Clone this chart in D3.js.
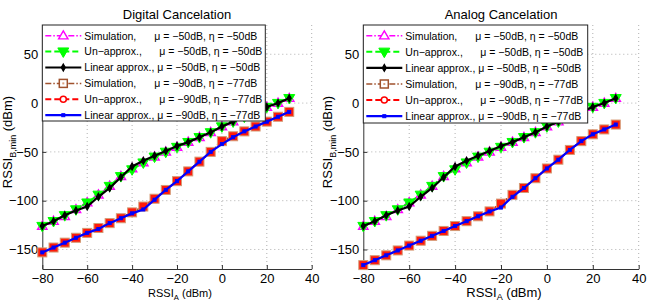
<!DOCTYPE html>
<html>
<head>
<meta charset="utf-8">
<script src="https://cdn.jsdelivr.net/npm/d3@7"></script>
<style>
  body { margin: 0; background: #fff; }
  text { font-family: "Liberation Sans", Arial, sans-serif; fill: #000; }
</style>
</head>
<body>
<div id="chart"></div>
<script>
// x values shared by all curves
const rssiA = [-80, -75, -70, -65, -60, -55, -50, -45, -40, -35, -30, -25, -20, -15, -10, -5, 0, 5, 10, 15, 20, 25, 30];

// digital cancelation
const digSim50 = [-126, -121, -116, -109, -102, -94, -85, -75, -67, -61, -55, -50, -45, -40, -35, -30, -24, -19, -14, -9, -4, 0, 5];
const digUn50  = [-126, -121, -115, -109, -102, -94, -85, -75, -68, -61, -55, -50, -45, -40, -35, -30, -24, -19, -14, -9, -4, 0, 5];
const digLin50 = [-126, -121, -115, -110, -106, -96, -87, -76, -65, -59, -54, -49, -44, -40, -35, -30, -24, -19, -14, -9, -4, 0, 5];
const digSim90 = [-153, -148, -143, -138, -133, -128, -123, -118, -112, -106, -98, -89, -80, -70, -60, -50, -39, -34, -29, -24, -19, -14, -9];
const digUn90  = [-153, -148, -143, -138, -133, -128, -123, -118, -112, -106, -98, -89, -80, -70, -60, -50, -39, -34, -29, -24, -19, -14, -9];
const digLin90 = [-153, -148, -143, -138, -133, -129, -123, -118, -113, -109, -99, -89, -80, -70, -60, -50, -42, -35, -29, -24, -19, -14, -9];

// analog cancelation
const anaSim50 = [-126, -121, -116, -109, -102, -94, -85, -75, -67, -61, -55, -50, -45, -40, -35, -30, -24, -19, -14, -9, -4, 0, 5];
const anaUn50  = [-126, -121, -115, -109, -102, -94, -85, -75, -68, -61, -55, -50, -45, -40, -35, -30, -24, -19, -14, -9, -4, 0, 5];
const anaLin50 = [-126, -121, -115, -110, -106, -96, -87, -76, -65, -59, -54, -49, -44, -40, -35, -30, -24, -19, -14, -9, -4, 0, 5];
const anaSim90 = [-166, -161, -156, -151, -146, -141, -136, -131, -126, -121, -116, -111, -103, -94, -87, -77, -67, -58, -48, -39, -32, -27, -22];
const anaUn90  = [-166, -161, -156, -151, -146, -141, -136, -131, -126, -121, -116, -111, -103, -94, -87, -77, -67, -58, -48, -39, -32, -27, -22];
const anaLin90 = [-166, -161, -156, -151, -146, -141, -136, -131, -126, -121, -116, -111, -107, -96, -87, -77, -67, -58, -48, -39, -32, -27, -22];

const xTicks = [-80, -60, -40, -20, 0, 20, 40];
const yTicks = [-150, -100, -50, 0, 50];
const titles = ["Digital Cancelation", "Analog Cancelation"];
const legendLabels = [
  ["Simulation,", "\u03bc = \u221250dB, \u03b7 = \u221250dB"],
  ["Un\u2212approx.,", "\u03bc = \u221250dB, \u03b7 = \u221250dB"],
  ["Linear approx.,", "\u03bc = \u221250dB, \u03b7 = \u221250dB"],
  ["Simulation,", "\u03bc = \u221290dB, \u03b7 = \u221277dB"],
  ["Un\u2212approx.,", "\u03bc = \u221290dB, \u03b7 = \u221277dB"],
  ["Linear approx.,", "\u03bc = \u221290dB, \u03b7 = \u221277dB"]
];

// series styles, in legend order
const styles = [
  {color: "#ff00ff", width: 1.5, dash: "6,2,1.5,2", marker: "triUp"},
  {color: "#00ff00", width: 2, dash: "6,3", marker: "triDown"},
  {color: "#000000", width: 2.2, dash: null, marker: "star"},
  {color: "#a0522d", width: 1.5, dash: "6,2,1.5,2", marker: "square"},
  {color: "#ff0000", width: 2, dash: "6,3", marker: "circle"},
  {color: "#0000ff", width: 2.2, dash: null, marker: "dot"}
];

const panels = [
  {left: 42.3, right: 311.7, legendW: 223, legendH: 96, xFont: 11, yLabelX: 12,
   series: [digSim50, digUn50, digLin50, digSim90, digUn90, digLin90]},
  {left: 363.3, right: 638.7, legendW: 224.4, legendH: 98, xFont: 13, yLabelX: 332,
   series: [anaSim50, anaUn50, anaLin50, anaSim90, anaUn90, anaLin90]}
];

const W = 648, H = 307, plotTop = 25, plotBottom = 269;

const svg = d3.select("#chart").append("svg")
  .attr("width", W).attr("height", H)
  .style("background", "#fff");

function drawMarker(g, kind, color, cx, cy, inLegend) {
  if (kind === "triUp") {
    g.append("path").attr("d", d3.symbol(d3.symbolTriangle, 38)())
      .attr("transform", `translate(${cx},${cy + 0.5})`)
      .attr("fill", inLegend ? "#fff" : "none").attr("stroke", color).attr("stroke-width", 1.4);
  } else if (kind === "triDown") {
    g.append("path").attr("d", d3.symbol(d3.symbolTriangle, 52)())
      .attr("transform", `translate(${cx},${cy - 0.5}) rotate(180)`)
      .attr("fill", color).attr("stroke", color).attr("stroke-width", 1);
  } else if (kind === "star") {
    g.append("path").attr("d", d3.symbol(d3.symbolDiamond, 14)())
      .attr("transform", `translate(${cx},${cy})`)
      .attr("fill", color).attr("stroke", color).attr("stroke-width", 1.2);
  } else if (kind === "square") {
    if (inLegend) {
      g.append("rect").attr("x", cx - 4).attr("y", cy - 4)
        .attr("width", 8).attr("height", 8)
        .attr("fill", "#fff").attr("stroke", color).attr("stroke-width", 1.5);
      g.append("rect").attr("x", cx - 1).attr("y", cy - 1)
        .attr("width", 2).attr("height", 2).attr("fill", "#d9a080");
    } else {
      g.append("rect").attr("x", cx - 4.5).attr("y", cy - 4.5)
        .attr("width", 9).attr("height", 9)
        .attr("fill", "#ff1a0a").attr("stroke", "#d49a74").attr("stroke-width", 1);
    }
  } else if (kind === "circle") {
    g.append("circle").attr("cx", cx).attr("cy", cy).attr("r", 3)
      .attr("fill", "#fff").attr("stroke", color).attr("stroke-width", 1.5);
  } else if (kind === "dot") {
    g.append("rect").attr("x", cx - 1.6).attr("y", cy - 1.6)
      .attr("width", 3.2).attr("height", 3.2)
      .attr("fill", color).attr("stroke", color).attr("stroke-width", 0.8);
  }
}

panels.forEach((p, pi) => {
  const x = d3.scaleLinear().domain([-80, 40]).range([p.left, p.right]);
  const y = d3.scaleLinear().domain([-170, 80]).range([plotBottom, plotTop]);
  const g = svg.append("g");

  // dotted grid
  g.append("g").selectAll("line").data(xTicks.slice(1)).join("line")
    .attr("x1", d => x(d)).attr("x2", d => x(d))
    .attr("y1", plotTop).attr("y2", plotBottom)
    .attr("stroke", "#b0b0b0").attr("stroke-width", 1).attr("stroke-dasharray", "1,3");
  g.append("g").selectAll("line").data(yTicks).join("line")
    .attr("x1", p.left).attr("x2", p.right)
    .attr("y1", d => y(d)).attr("y2", d => y(d))
    .attr("stroke", "#b0b0b0").attr("stroke-width", 1).attr("stroke-dasharray", "1,3");

  // axes
  const xAxis = g.append("g").attr("transform", `translate(0,${plotBottom})`)
    .call(d3.axisBottom(x).tickValues(xTicks).tickSizeInner(-4).tickSizeOuter(0).tickPadding(5));
  const yAxis = g.append("g").attr("transform", `translate(${p.left},0)`)
    .call(d3.axisLeft(y).tickValues(yTicks).tickSizeInner(-4).tickSizeOuter(0).tickPadding(4));
  [xAxis, yAxis].forEach(a => {
    a.select(".domain").attr("stroke", "#333").attr("stroke-width", 1);
    a.selectAll(".tick line").attr("stroke", "#333");
    a.selectAll("text").style("font-size", "13px").style("font-family", "'Liberation Sans', Arial, sans-serif");
  });

  // curves
  const line = d3.line().x((d, i) => x(rssiA[i])).y(d => y(d));
  const order = [0, 1, 4, 3, 2, 5];
  order.forEach(si => {
    const s = styles[si];
    const vals = p.series[si];
    g.append("path").datum(vals).attr("d", line)
      .attr("fill", "none").attr("stroke", s.color).attr("stroke-width", s.width)
      .attr("stroke-dasharray", s.dash);
    const mg = g.append("g");
    vals.forEach((v, i) => drawMarker(mg, s.marker, s.color, x(rssiA[i]), y(v), false));
  });

  // legend
  const lg = svg.append("g").attr("transform", `translate(${p.left},${plotTop})`);
  lg.append("rect").attr("width", p.legendW).attr("height", p.legendH)
    .attr("fill", "#fff").attr("stroke", "#222").attr("stroke-width", 1);
  legendLabels.forEach((lab, i) => {
    const cy = 10.7 + i * 15.9 + (p.legendH - 96) * i / 10;
    const s = styles[i];
    lg.append("line").attr("x1", 3).attr("x2", 39).attr("y1", cy).attr("y2", cy)
      .attr("stroke", s.color).attr("stroke-width", s.width).attr("stroke-dasharray", s.dash);
    drawMarker(lg, s.marker, s.color, 21, cy, true);
    const t = lg.append("text").attr("x", 42).attr("y", cy + 3.8).style("font-size", "10.5px");
    t.append("tspan").text(lab[0]);
    const muX = i % 3 === 2 ? null : (i % 3 === 0 ? 112 : 117);
    if (muX === null) t.append("tspan").text(" " + lab[1]);
    else t.append("tspan").attr("x", muX).text(lab[1]);
  });

  // title
  svg.append("text").attr("x", (p.left + p.right) / 2).attr("y", 18.5)
    .attr("text-anchor", "middle").style("font-size", "13px").text(titles[pi]);

  // x label
  const xl = svg.append("text").attr("x", (p.left + p.right) / 2 + 3).attr("y", 297)
    .attr("text-anchor", "middle").style("font-size", p.xFont + "px");
  xl.append("tspan").text("RSSI");
  xl.append("tspan").attr("dy", 3).style("font-size", (p.xFont * 0.7) + "px").text("A");
  xl.append("tspan").attr("dy", -3).text(" (dBm)");

  // y label
  const yl = svg.append("text").attr("transform", `translate(${p.yLabelX},142) rotate(-90)`)
    .attr("text-anchor", "middle").style("font-size", "13px");
  yl.append("tspan").text("RSSI");
  yl.append("tspan").attr("dy", 3.5).style("font-size", "9px").text("B,min");
  yl.append("tspan").attr("dy", -3.5).text(" (dBm)");
});
</script>
</body>
</html>
